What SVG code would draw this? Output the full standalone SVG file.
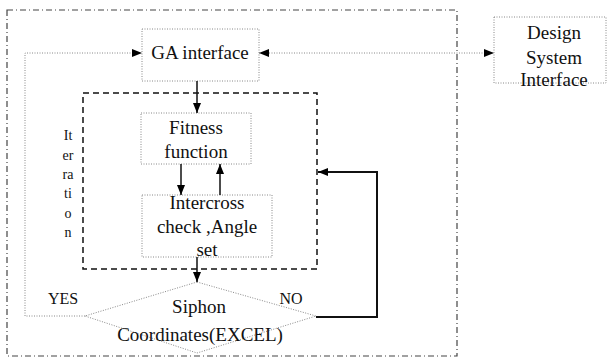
<svg xmlns="http://www.w3.org/2000/svg" width="608" height="360" viewBox="0 0 608 360">
<defs>
<marker id="ah" viewBox="0 0 10 8" refX="10" refY="4" markerWidth="10" markerHeight="8" markerUnits="userSpaceOnUse" orient="auto-start-reverse">
<path d="M0,0 L10,4 L0,8 Z" fill="#000"/>
</marker>
</defs>
<style>
text{fill:#111;text-anchor:middle}
.t{font-size:19px}
.s{font-size:14px}
.l{font-size:16px}
.box{fill:none;stroke:#888;stroke-width:1;stroke-dasharray:1 1.5}
.outer{fill:none;stroke:#444;stroke-width:1.2;stroke-dasharray:6 3 1 3}
.inner{fill:none;stroke:#111;stroke-width:1.5;stroke-dasharray:6 4}
.dot{fill:none;stroke:#888;stroke-width:1;stroke-dasharray:1 1.5}
.blk{fill:none;stroke:#111;stroke-width:1.5}
.thick{fill:none;stroke:#111;stroke-width:2}
</style>
<rect width="608" height="360" fill="#fff"/>
<rect class="outer" x="7" y="10" width="450" height="346"/>
<rect class="inner" x="83" y="93" width="234" height="176"/>
<g font-family="Liberation Serif, Times New Roman, serif">
<g id="ga">
<rect class="box" x="142" y="29" width="117" height="52"/>
<text class="t" x="200" y="59">GA interface</text>
</g>
<g id="design">
<rect class="box" x="494" y="17" width="112" height="66"/>
<text class="t" x="554" y="39">Design</text>
<text class="t" x="554" y="64">System</text>
<text class="t" x="554" y="86">Interface</text>
</g>
<g id="fitness">
<rect class="box" x="141" y="113" width="110" height="51"/>
<text class="t" x="196" y="134">Fitness</text>
<text class="t" x="196" y="158">function</text>
</g>
<g id="intercross">
<rect class="box" x="142" y="195" width="130" height="62"/>
<text class="t" x="207" y="209">Intercross</text>
<text class="t" x="207" y="233">check ,Angle</text>
<text class="t" x="207" y="256">set</text>
</g>
<g id="siphon">
<path class="box" d="M197,282 L316,316 L197,353 L85,316 Z"/>
<text class="t" x="199" y="313">Siphon</text>
<text class="t" x="200" y="341">Coordinates(EXCEL)</text>
</g>
<g id="iteration">
<text class="s" x="68" y="140">It</text>
<text class="s" x="68" y="160">er</text>
<text class="s" x="68" y="179">ra</text>
<text class="s" x="68" y="198">ti</text>
<text class="s" x="68" y="218">o</text>
<text class="s" x="68" y="237">n</text>
</g>
<g id="labels">
<text class="l" x="63" y="304">YES</text>
<text class="l" x="291" y="304">NO</text>
</g>
</g>
<g id="connectors">
<path class="dot" d="M85,316 L25,316 L25,53 L142,53" marker-end="url(#ah)"/>
<path class="dot" d="M259,53 L494,53" marker-start="url(#ah)" marker-end="url(#ah)"/>
<path class="blk" d="M197,81 L197,113" marker-end="url(#ah)"/>
<path class="blk" d="M181,164 L181,195" marker-end="url(#ah)"/>
<path class="blk" d="M220,195 L220,164" marker-end="url(#ah)"/>
<path class="blk" d="M197,257 L197,282" marker-end="url(#ah)"/>
<path class="thick" d="M316,317 L377,317 L377,172 L318,172" marker-end="url(#ah)"/>
</g>
</svg>
